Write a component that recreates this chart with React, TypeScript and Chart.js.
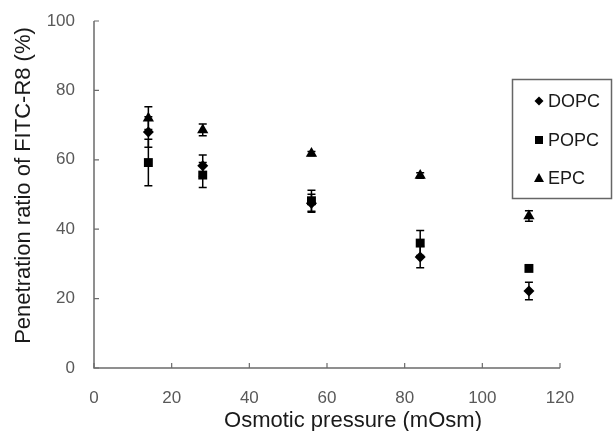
import React, { useEffect, useRef } from "react";
import { Chart, registerables } from "chart.js";

Chart.register(...registerables);

const osmotic = [14, 28, 56, 84, 112];
const dopc = [68, 58.3, 47.5, 32, 22.2];
const dopcErr = [4.4, 3.1, 2.6, 3.1, 2.5];
const popc = [59.2, 55.6, 48.2, 36, 28.7];
const popcErr = [6.7, 3.6, 3.0, 3.6, 0.8];
const epc = [72, 68.6, 61.8, 55.5, 43.8];
const epcErr = [3.3, 1.7, 0.6, 0.8, 1.5];
const xTicks = [0, 20, 40, 60, 80, 100, 120];
const yTicks = [0, 20, 40, 60, 80, 100];

const seriesNames = ["DOPC", "POPC", "EPC"];
const seriesStyles = ["rectRot", "rect", "triangle"];
const seriesRadius = [5.5, 6.3, 6.5];
const xTitle = "Osmotic pressure (mOsm)";
const yTitle = "Penetration ratio of FITC-R8 (%)";

const FONT = "'Liberation Sans', Arial, sans-serif";
const AXIS = "#6b6b6b";

const errorBarPlugin = {
  id: "errorBars",
  beforeDatasetsDraw(chart: any) {
    const ctx = chart.ctx;
    const xs = chart.scales.x;
    const ys = chart.scales.y;
    ctx.save();
    ctx.strokeStyle = "#000";
    ctx.lineWidth = 1.5;
    chart.data.datasets.forEach((ds: any) => {
      ds.data.forEach((p: any, i: number) => {
        const e = ds.errors[i];
        const x = xs.getPixelForValue(p.x);
        const yt = ys.getPixelForValue(p.y + e);
        const yb = ys.getPixelForValue(p.y - e);
        ctx.beginPath();
        ctx.moveTo(x, yt);
        ctx.lineTo(x, yb);
        ctx.moveTo(x - 4, yt);
        ctx.lineTo(x + 4, yt);
        ctx.moveTo(x - 4, yb);
        ctx.lineTo(x + 4, yb);
        ctx.stroke();
      });
    });
    ctx.restore();
  },
};

const axisPlugin = {
  id: "axisTicks",
  afterDraw(chart: any) {
    const ctx = chart.ctx;
    const xs = chart.scales.x;
    const ys = chart.scales.y;
    const { left, bottom } = chart.chartArea;
    ctx.save();
    ctx.strokeStyle = AXIS;
    ctx.lineWidth = 1.5;
    ctx.beginPath();
    ctx.moveTo(left, ys.getPixelForValue(100));
    ctx.lineTo(left, bottom);
    ctx.lineTo(xs.getPixelForValue(120), bottom);
    ctx.stroke();
    ctx.lineWidth = 1.2;
    ctx.beginPath();
    yTicks.forEach((v) => {
      const y = ys.getPixelForValue(v);
      ctx.moveTo(left, y);
      ctx.lineTo(left + 5, y);
    });
    xTicks.forEach((v) => {
      const x = xs.getPixelForValue(v);
      ctx.moveTo(x, bottom);
      ctx.lineTo(x, bottom - 5);
    });
    ctx.stroke();

    // axis titles
    ctx.fillStyle = "#1a1a1a";
    ctx.font = `22px ${FONT}`;
    ctx.textAlign = "center";
    ctx.textBaseline = "alphabetic";
    ctx.fillText(xTitle, 353, 427);
    ctx.translate(24, 185.5);
    ctx.rotate(-Math.PI / 2);
    ctx.textBaseline = "middle";
    ctx.fillText(yTitle, 0, 0);
    ctx.restore();
  },
};

function drawMarker(ctx: CanvasRenderingContext2D, style: string, x: number, y: number) {
  ctx.beginPath();
  if (style === "rectRot") {
    ctx.moveTo(x, y - 4.5);
    ctx.lineTo(x + 4.5, y);
    ctx.lineTo(x, y + 4.5);
    ctx.lineTo(x - 4.5, y);
  } else if (style === "rect") {
    ctx.rect(x - 4, y - 4, 8, 8);
  } else {
    ctx.moveTo(x, y - 5);
    ctx.lineTo(x + 5, y + 4);
    ctx.lineTo(x - 5, y + 4);
  }
  ctx.closePath();
  ctx.fill();
}

const legendPlugin = {
  id: "boxLegend",
  afterDraw(chart: any) {
    const ctx = chart.ctx;
    ctx.save();
    ctx.fillStyle = "#fff";
    ctx.fillRect(512.5, 79.5, 99, 119);
    ctx.strokeStyle = "#666";
    ctx.lineWidth = 1.5;
    ctx.strokeRect(512.5, 79.5, 99, 119);
    ctx.font = `18px ${FONT}`;
    ctx.textBaseline = "middle";
    const rows = [101, 140, 178];
    chart.data.datasets.forEach((ds: any, i: number) => {
      ctx.fillStyle = "#000";
      drawMarker(ctx, seriesStyles[i], 539, rows[i]);
      ctx.fillStyle = "#1a1a1a";
      ctx.fillText(ds.label, 548, rows[i] + 1);
    });
    ctx.restore();
  },
};

export default function App() {
  const ref = useRef<HTMLCanvasElement>(null);
  useEffect(() => {
    if (!ref.current) return;
    const mk = (vals: number[], errs: number[], i: number) => ({
      label: seriesNames[i],
      data: osmotic.map((x, k) => ({ x, y: vals[k] })),
      errors: errs,
      showLine: false,
      pointStyle: seriesStyles[i],
      pointRadius: seriesRadius[i],
      pointHoverRadius: seriesRadius[i],
      pointBackgroundColor: "#000",
      pointBorderColor: "#000",
      pointBorderWidth: 0,
      backgroundColor: "#000",
      borderColor: "#000",
    });
    const chart = new Chart(ref.current, {
      type: "scatter",
      data: {
        datasets: [mk(dopc, dopcErr, 0), mk(popc, popcErr, 1), mk(epc, epcErr, 2)] as any,
      },
      options: {
        animation: false,
        responsive: false,
        maintainAspectRatio: false,
        layout: { padding: { top: 21, right: 53, bottom: 0, left: 0 } },
        plugins: { legend: { display: false }, tooltip: { enabled: false } },
        scales: {
          x: {
            type: "linear",
            min: 0,
            max: 120,
            afterBuildTicks: (s: any) => { s.ticks = xTicks.map((v) => ({ value: v })); },
            afterFit: (s: any) => { s.height = 63; s.paddingLeft = 0; s.paddingRight = 0; },
            grid: { display: false, drawTicks: false },
            border: { display: false },
            ticks: { padding: 20, color: "#595959", font: { family: FONT, size: 17 } },
          },
          y: {
            type: "linear",
            min: 0,
            max: 100,
            afterBuildTicks: (s: any) => { s.ticks = yTicks.map((v) => ({ value: v })); },
            afterFit: (s: any) => { s.width = 94; s.paddingTop = 0; s.paddingBottom = 0; },
            grid: { display: false, drawTicks: false },
            border: { display: false },
            ticks: { padding: 19, color: "#595959", font: { family: FONT, size: 17 } },
          },
        },
      },
      plugins: [errorBarPlugin, axisPlugin, legendPlugin],
    } as any);
    return () => chart.destroy();
  }, []);
  return (
    <div style={{ position: "fixed", left: 0, top: 0, width: 613, height: 431, background: "#fff" }}>
      <canvas ref={ref} width={613} height={431} style={{ width: 613, height: 431 }} />
    </div>
  );
}
